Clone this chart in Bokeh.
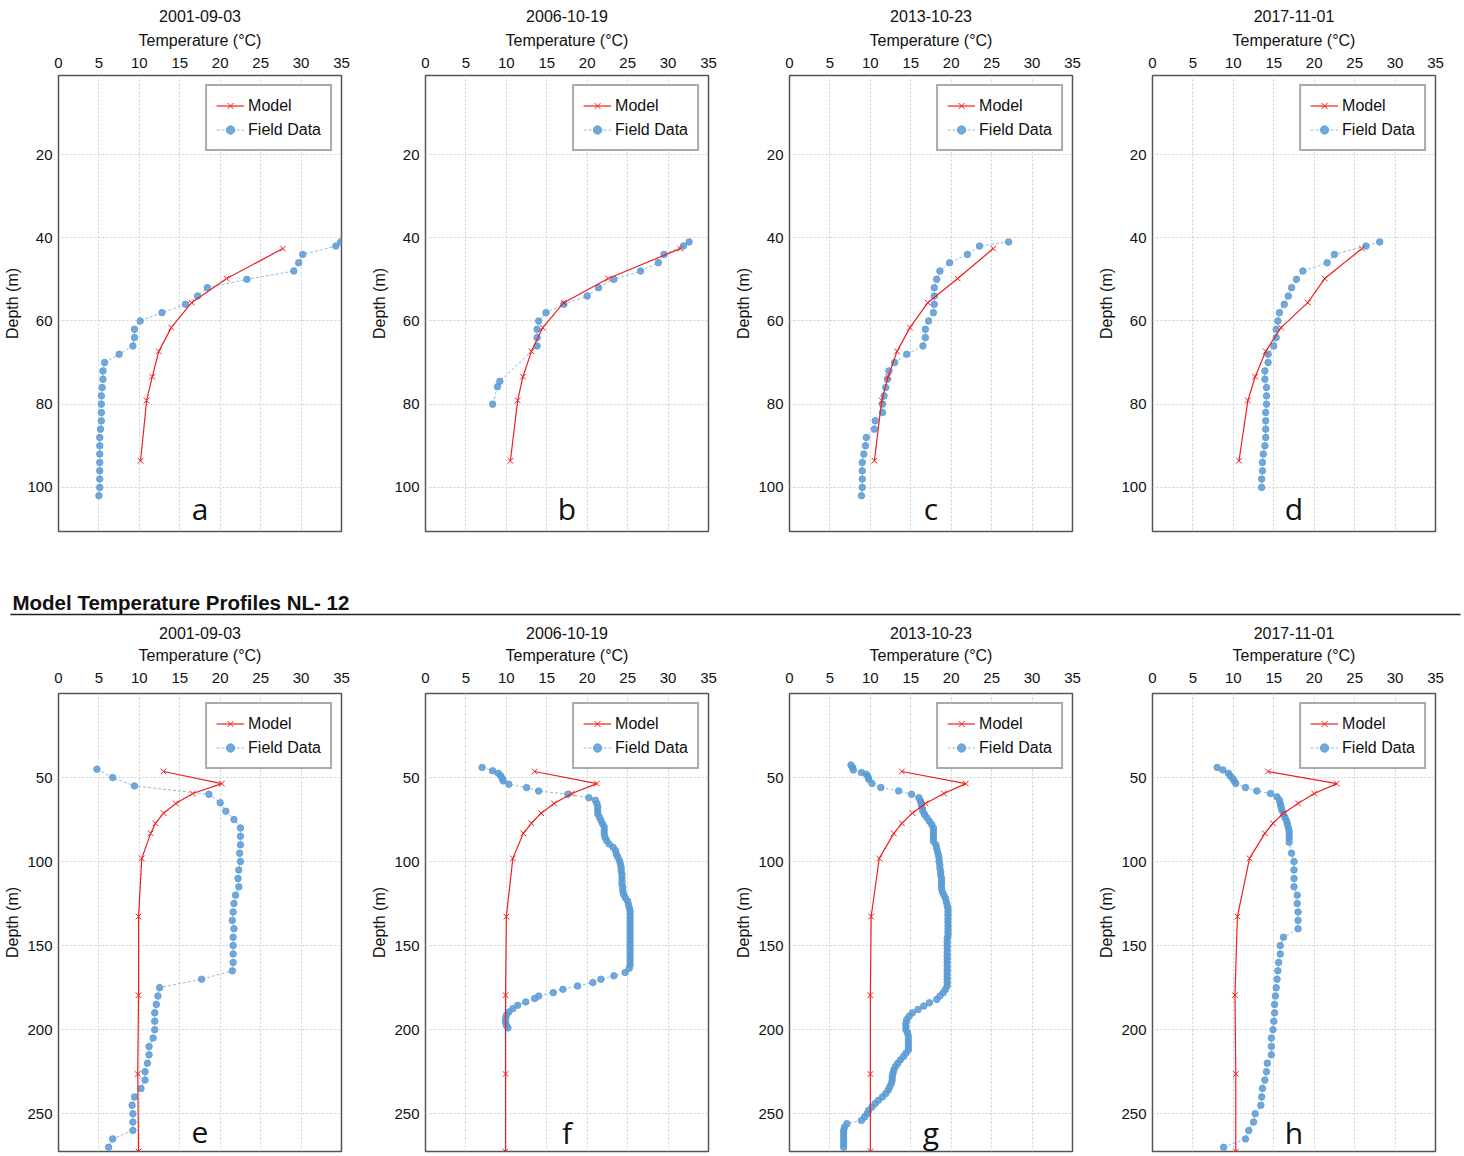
from bokeh.plotting import figure
from bokeh.layouts import column, row
from bokeh.models import Range1d, FixedTicker, Legend, LegendItem, Label
from bokeh.embed import file_html
from bokeh.resources import INLINE

# ---------------- data ----------------
dates = ["2001-09-03", "2006-10-19", "2013-10-23", "2017-11-01"]
letters_top = ["a", "b", "c", "d"]
letters_bottom = ["e", "f", "g", "h"]
heading = "Model Temperature Profiles NL- 12"
x_ticks = [0, 5, 10, 15, 20, 25, 30, 35]
y_ticks_top = [20, 40, 60, 80, 100]
y_ticks_bottom = [50, 100, 150, 200, 250]

# top row (a-d) model
model_depth_top = [42.6, 49.8, 55.6, 61.6, 67.3, 73.4, 79.1, 93.6]
model_temp_a = [27.75, 20.8, 16.45, 13.95, 12.4, 11.6, 10.9, 10.15]
model_temp_b = [31.5, 22.6, 17.1, 14.5, 13.1, 12.05, 11.4, 10.5]
model_temp_c = [25.2, 20.8, 17.1, 14.9, 13.3, 12.2, 11.4, 10.5]
model_temp_d = [25.9, 21.3, 19.2, 15.9, 14.0, 12.7, 11.8, 10.7]

# top row field data
field_depth_a = [41, 42, 44, 46, 48, 50, 52, 54, 56, 58, 60, 62, 64, 66, 68, 70, 72, 74, 76, 78,
                 80, 82, 84, 86, 88, 90, 92, 94, 96, 98, 100, 102]
field_temp_a = [34.9, 34.3, 30.2, 29.7, 29.1, 23.3, 18.4, 17.2, 15.7, 12.8, 10.1, 9.4, 9.4, 9.2, 7.5,
                5.7, 5.5, 5.5, 5.4, 5.3, 5.3, 5.3, 5.3, 5.2, 5.1, 5.1, 5.1, 5.1, 5.1, 5.1, 5.1, 5.0]
field_depth_b = [41, 42, 44, 46, 48, 50, 52, 54, 56, 58, 60, 62, 64, 66, 74.5, 75.8, 80]
field_temp_b = [32.6, 31.9, 29.5, 28.8, 26.6, 23.3, 21.4, 20.0, 17.1, 14.9, 14.0, 13.8, 13.8, 13.8,
                9.2, 8.9, 8.3]
field_depth_c = [41, 42, 44, 46, 48, 50, 52, 54, 56, 58, 60, 62, 64, 66, 68, 70, 72, 74, 76, 78,
                 80, 82, 84, 86, 88, 90, 92, 94, 96, 98, 100, 102]
field_temp_c = [27.1, 23.5, 22.0, 19.8, 18.6, 18.2, 17.9, 17.9, 17.9, 17.8, 17.2, 16.8, 16.8, 16.5,
                14.5, 13.0, 12.3, 12.1, 11.9, 11.7, 11.5, 11.5, 10.6, 10.5, 9.5, 9.4, 9.2, 9.0, 9.0,
                9.0, 9.0, 8.9]
field_depth_d = [41, 42, 44, 46, 48, 50, 52, 54, 56, 58, 60, 62, 64, 66, 68, 70, 72, 74, 76, 78,
                 80, 82, 84, 86, 88, 90, 92, 94, 96, 98, 100]
field_temp_d = [28.1, 26.4, 22.5, 21.6, 18.6, 17.8, 17.2, 16.8, 16.3, 15.7, 15.5, 15.3, 15.3, 15.0,
                14.3, 14.3, 13.9, 13.9, 14.1, 14.1, 14.1, 14.0, 14.0, 14.0, 14.0, 13.9, 13.7, 13.6,
                13.6, 13.5, 13.5]

# bottom row (e-h) model
model_depth_bottom = [46.4, 53.6, 59.5, 65.4, 71.2, 77.2, 83.2, 98.1, 132.7, 179.5, 226.4, 272.5]
model_temp_e = [13.0, 20.2, 16.6, 14.5, 13.0, 12.0, 11.4, 10.3, 9.9, 9.9, 9.8, 9.9]
model_temp_f = [13.5, 21.2, 18.1, 15.9, 14.3, 13.1, 12.1, 10.8, 10.0, 9.9, 9.9, 9.9]
model_temp_g = [13.9, 21.8, 19.1, 16.8, 15.2, 13.9, 12.9, 11.1, 10.1, 10.0, 10.0, 10.0]
model_temp_h = [14.3, 22.8, 20.0, 18.0, 16.2, 14.9, 13.9, 12.0, 10.5, 10.2, 10.3, 10.3]

# bottom row field data
field_depth_e = [45, 50, 55, 60, 65, 70, 75, 80, 85, 90, 95, 100, 105, 110, 115, 120, 125, 130,
                 135, 140, 145, 150, 155, 160, 165, 170, 175, 180, 185, 190, 195, 200, 205, 210,
                 215, 220, 225, 230, 235, 240, 245, 250, 255, 260, 265, 270]
field_temp_e = [4.75, 6.7, 9.4, 18.6, 20.0, 20.7, 21.7, 22.5, 22.5, 22.5, 22.4, 22.5, 22.3, 22.2,
                22.3, 21.9, 21.7, 21.6, 21.5, 21.7, 21.6, 21.6, 21.6, 21.6, 21.5, 17.7, 12.5, 12.3,
                12.1, 11.9, 11.9, 11.9, 11.7, 11.2, 11.2, 11.0, 10.7, 10.7, 10.2, 9.4, 9.1, 9.2,
                9.2, 9.2, 6.7, 6.2]
field_depth_f = [44, 46, 47.5, 49, 50.5, 52, 54, 56, 58, 60, 62, 63.5, 65.5, 67.5, 69.5, 71.5,
                 73.5, 75.5, 77.5, 79.5, 81.5, 83.5, 85.5, 87.5, 89.5, 91.5, 93.5, 95.5, 97.5,
                 99.5, 101.5, 103.5, 105.5, 107.5, 109.5, 111.5, 113.5, 115.5, 117.5, 119.5,
                 121.5, 123.5, 125.5, 127.5, 129.5, 131.5, 133.5, 135.5, 137.5, 139.5, 141.5,
                 143.5, 145.5, 147.5, 149.5, 151.5, 153.5, 155.5, 157.5, 159.5, 161.5, 163.5,
                 166, 168, 170, 172, 174, 176, 178, 180, 181.5, 183.5, 185.5, 187.5, 189.5,
                 191.5, 193.5, 195.5, 197.5, 199]
field_temp_f = [7.0, 8.3, 9.0, 9.3, 9.5, 9.6, 10.3, 12.5, 14.0, 17.6, 20.2, 21.0, 21.2, 21.3,
                21.3, 21.3, 21.5, 21.7, 21.9, 22.1, 22.1, 22.1, 22.2, 22.4, 22.7, 23.2, 23.5,
                23.6, 23.8, 24.0, 24.1, 24.2, 24.2, 24.3, 24.3, 24.3, 24.3, 24.4, 24.4, 24.5,
                24.7, 25.0, 25.1, 25.2, 25.3, 25.3, 25.3, 25.3, 25.3, 25.3, 25.3, 25.3, 25.3,
                25.3, 25.3, 25.3, 25.3, 25.3, 25.3, 25.3, 25.3, 25.2, 24.7, 23.3, 21.7, 20.7,
                18.8, 17.0, 15.8, 14.0, 13.5, 12.4, 11.4, 10.8, 10.3, 10.0, 9.9, 9.9, 10.0, 10.2]
field_depth_g = [42.5, 44, 45.5, 47, 48, 49.5, 51, 53.5, 56, 58, 60, 62, 64, 66, 68, 70, 72, 74,
                 76, 78, 80, 82, 84, 86, 88, 90, 92, 94, 96, 98, 100, 102, 104, 106, 108, 110,
                 112, 114, 116, 118, 120, 122, 124, 126, 128, 130, 132, 134, 136, 138, 140, 142,
                 144, 146, 148, 150, 152, 154, 156, 158, 160, 162, 164, 166, 168, 170, 172, 174,
                 176, 178, 180, 182, 184, 186, 188, 190, 192, 194, 196, 198, 200, 202, 204, 206,
                 208, 210, 212, 214, 216, 218, 220, 222, 224, 226, 228, 230, 232, 234, 236, 238,
                 240, 242, 244, 246, 248, 250, 252, 254, 256, 258, 260, 262, 264, 266, 268, 270]
field_temp_g = [7.6, 7.8, 7.9, 8.9, 9.5, 9.7, 9.8, 10.2, 11.3, 13.5, 15.1, 16.0, 16.2, 16.3,
                16.4, 16.5, 16.7, 17.0, 17.3, 17.6, 17.8, 17.8, 17.8, 17.8, 17.8, 18.1, 18.2,
                18.3, 18.4, 18.5, 18.5, 18.6, 18.6, 18.7, 18.7, 18.8, 18.8, 18.8, 18.8, 18.9,
                19.1, 19.3, 19.4, 19.5, 19.6, 19.6, 19.6, 19.6, 19.6, 19.6, 19.6, 19.6, 19.6,
                19.5, 19.5, 19.5, 19.5, 19.5, 19.5, 19.5, 19.5, 19.5, 19.5, 19.5, 19.5, 19.5,
                19.5, 19.5, 19.3, 19.0, 18.6, 18.2, 17.3, 16.6, 15.9, 15.2, 14.8, 14.5, 14.4,
                14.4, 14.4, 14.6, 14.7, 14.7, 14.7, 14.7, 14.7, 14.4, 14.1, 13.7, 13.4, 13.1,
                12.9, 12.8, 12.7, 12.7, 12.6, 12.4, 12.2, 11.9, 11.5, 11.0, 10.6, 10.2, 9.8,
                9.6, 9.3, 8.9, 7.1, 6.8, 6.7, 6.7, 6.7, 6.7, 6.7, 6.7]
field_depth_h = [44, 45.5, 47.5, 49, 50.5, 52, 53.5, 56, 58, 59.5, 61.5, 63.5, 65.5, 67.5, 69.5,
                 72, 74, 76, 78, 80, 82, 84, 86, 88.5, 95, 100, 105, 110, 115, 120, 125, 130,
                 135, 140, 145, 150, 155, 160, 165, 170, 175, 180, 185, 190, 195, 200, 205, 210,
                 215, 220, 225, 230, 235, 240, 245, 250, 255, 260, 265, 270]
field_temp_h = [8.0, 8.7, 9.4, 9.6, 9.9, 10.1, 10.3, 11.5, 12.9, 14.6, 15.4, 15.7, 15.8, 15.9,
                16.0, 16.2, 16.4, 16.6, 16.7, 16.8, 16.9, 16.9, 16.9, 16.9, 17.2, 17.5, 17.5,
                17.5, 17.5, 17.9, 17.9, 18.0, 18.0, 18.0, 16.2, 15.8, 15.8, 15.6, 15.5, 15.4,
                15.3, 15.2, 15.1, 15.1, 15.0, 14.9, 14.7, 14.7, 14.7, 14.2, 14.1, 13.9, 13.6,
                13.5, 13.4, 12.7, 12.5, 11.9, 11.5, 8.8]

# ---------------- styling ----------------
FONT = "Liberation Sans"
RED = "#f01e1e"
BLUE = "#5b9bd5"
BLUE_LINE = "#8dbbe3"
FRAME_W = 283


def make_panel(date, letter, mdep, mtemp, fdep, ftemp, yr, yticks, letter_y,
               bl, br, bt, bb, fh, title_standoff, label_standoff, tick_standoff):
    p = figure(frame_width=FRAME_W, frame_height=fh,
               x_range=Range1d(0, 35), y_range=Range1d(yr[0], yr[1]),
               x_axis_location="above", y_axis_location="left",
               toolbar_location=None, output_backend="svg",
               min_border_left=bl, min_border_right=br,
               min_border_top=bt, min_border_bottom=bb)
    p.title.text = date
    p.title.align = "center"
    p.title.text_font = FONT
    p.title.text_font_size = "16px"
    p.title.text_font_style = "normal"
    p.title.text_color = "#111111"
    p.title.standoff = title_standoff

    p.xaxis.ticker = FixedTicker(ticks=x_ticks)
    p.yaxis.ticker = FixedTicker(ticks=yticks)
    p.xaxis.axis_label = "Temperature (°C)"
    p.yaxis.axis_label = "Depth (m)"
    for ax in (p.xaxis, p.yaxis):
        ax.axis_line_color = None
        ax.major_tick_line_color = None
        ax.minor_tick_line_color = None
        ax.major_tick_out = 0
        ax.major_tick_in = 0
        ax.minor_tick_out = 0
        ax.minor_tick_in = 0
        ax.major_label_text_font = FONT
        ax.major_label_text_font_size = "15px"
        ax.major_label_text_color = "#111111"
        ax.axis_label_text_font = FONT
        ax.axis_label_text_font_size = "16px"
        ax.axis_label_text_font_style = "normal"
        ax.axis_label_text_color = "#111111"
    p.xaxis.major_label_standoff = tick_standoff
    p.xaxis.axis_label_standoff = label_standoff
    p.yaxis.major_label_standoff = 6
    p.yaxis.axis_label_standoff = 3

    for g in (p.xgrid, p.ygrid):
        g.grid_line_color = "#cfcfcf"
        g.grid_line_dash = "2 2"
        g.grid_line_width = 1
    p.outline_line_color = "#555555"
    p.outline_line_width = 1.5

    fl = p.line(ftemp, fdep, line_color=BLUE_LINE, line_width=1, line_dash="3 2")
    fm = p.scatter(ftemp, fdep, marker="circle", size=6.5, fill_color=BLUE,
                   line_color=BLUE, fill_alpha=0.85, line_alpha=0.85)
    ml = p.line(mtemp, mdep, line_color=RED, line_width=1.2)
    mm = p.scatter(mtemp, mdep, marker="x", size=8, line_color=RED, line_width=1)

    legend = Legend(items=[LegendItem(label="Model", renderers=[ml, mm]),
                           LegendItem(label="Field Data", renderers=[fl, fm])],
                    location="top_right", margin=9, padding=9, spacing=3,
                    label_text_font=FONT, label_text_font_size="16px",
                    label_text_color="#111111",
                    glyph_width=28, glyph_height=21, label_height=21,
                    label_standoff=4, border_line_color="#555555",
                    border_line_width=2, background_fill_color="white",
                    background_fill_alpha=1.0)
    p.add_layout(legend)

    p.add_layout(Label(x=17.5, y=letter_y, text=letter, text_align="center",
                       text_baseline="middle", text_font="Open Sans",
                       text_font_size="30px", text_color="#111111"))
    return p


borders_l = [58, 58, 58, 58]
borders_r = [26, 23, 22, 18]

top_models = [model_temp_a, model_temp_b, model_temp_c, model_temp_d]
top_fd = [field_depth_a, field_depth_b, field_depth_c, field_depth_d]
top_ft = [field_temp_a, field_temp_b, field_temp_c, field_temp_d]
bot_models = [model_temp_e, model_temp_f, model_temp_g, model_temp_h]
bot_fd = [field_depth_e, field_depth_f, field_depth_g, field_depth_h]
bot_ft = [field_temp_e, field_temp_f, field_temp_g, field_temp_h]

top_panels = []
for i in range(4):
    top_panels.append(make_panel(dates[i], letters_top[i], model_depth_top, top_models[i],
                                 top_fd[i], top_ft[i], (110.6, 1.0), y_ticks_top, 105.0,
                                 borders_l[i], borders_r[i], 75, 4, 456, 13, 6, 8))

bottom_panels = []
for i in range(4):
    bottom_panels.append(make_panel(dates[i], letters_bottom[i], model_depth_bottom,
                                    bot_models[i], bot_fd[i], bot_ft[i], (272.5, 0.0),
                                    y_ticks_bottom, 261.0,
                                    borders_l[i], borders_r[i], 72, 4, 458, 9, 6, 11))

# heading strip
HW, HH = 1462, 85
hdr = figure(width=HW, height=HH, x_range=Range1d(0, HW), y_range=Range1d(0, HH),
             toolbar_location=None, output_backend="svg", min_border=0)
hdr.axis.visible = False
hdr.grid.visible = False
hdr.outline_line_color = None
hdr.text(x=[12], y=[18], text=[heading], text_font_size="20.5px", text_font_style="bold",
         text_baseline="alphabetic", text_align="left", text_color="#111111",
         text_font={"value": FONT})
hdr.segment(x0=[10], y0=[6], x1=[1460], y1=[6], line_color="#222222", line_width=1.5)

layout = column(row(*top_panels), hdr, row(*bottom_panels))

open("out.html", "w").write(file_html(layout, INLINE))
